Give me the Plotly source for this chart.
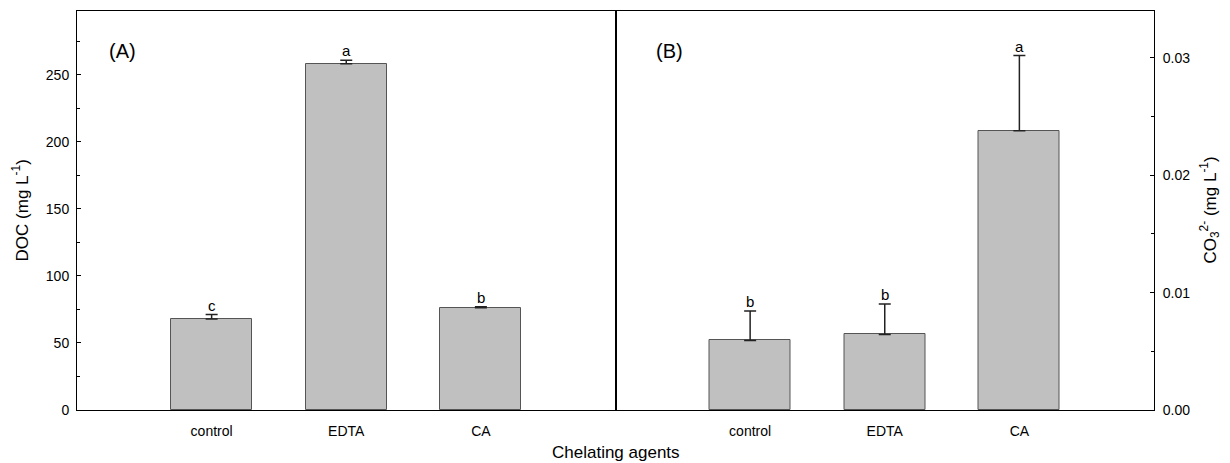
import plotly.graph_objects as go

categories = ["control", "EDTA", "CA"]
positions = [1, 2, 3]

doc_values = [67.9, 258.2, 76.2]
doc_errors = [3.3, 2.5, 0.8]
doc_letters = ["c", "a", "b"]

co3_values = [0.00593, 0.00644, 0.0238]
co3_errors = [0.0025, 0.0026, 0.0064]
co3_letters = ["b", "b", "a"]

left_ticks = [0, 50, 100, 150, 200, 250]
right_ticks = [0.00, 0.01, 0.02, 0.03]

FONT = "Liberation Sans, Arial, sans-serif"
BAR_FILL = "#c0c0c0"
BAR_LINE = "#555555"

fig = go.Figure()

def add_bars(values, errors, xa, ya):
    fig.add_trace(go.Bar(
        x=positions, y=values, width=0.6,
        marker=dict(color=BAR_FILL, line=dict(color=BAR_LINE, width=1)),
        error_y=dict(type="data", array=errors, arrayminus=[0] * len(errors),
                     symmetric=False, color="#222222", thickness=1.5, width=6),
        xaxis=xa, yaxis=ya, showlegend=False,
    ))

add_bars(doc_values, doc_errors, "x", "y")
add_bars(co3_values, co3_errors, "x2", "y2")

annotations = []
for p, v, e, t in zip(positions, doc_values, doc_errors, doc_letters):
    annotations.append(dict(x=p, y=v + e, xref="x", yref="y", text=t, showarrow=False,
                            yanchor="bottom", yshift=-1, font=dict(family=FONT, size=15, color="black")))
for p, v, e, t in zip(positions, co3_values, co3_errors, co3_letters):
    annotations.append(dict(x=p, y=v + e, xref="x2", yref="y2", text=t, showarrow=False,
                            yanchor="bottom", yshift=-1, font=dict(family=FONT, size=15, color="black")))

annotations += [
    dict(x=0.055, y=0.9, xref="x domain", yref="y domain", text="(A)", showarrow=False,
         xanchor="left", yanchor="middle", font=dict(family=FONT, size=20, color="black")),
    dict(x=0.072, y=0.9, xref="x2 domain", yref="y2 domain", text="(B)", showarrow=False,
         xanchor="left", yanchor="middle", font=dict(family=FONT, size=20, color="black")),
    dict(x=0.5, y=-0.1066, xref="paper", yref="paper", text="Chelating agents", showarrow=False,
         xanchor="center", yanchor="middle", font=dict(family=FONT, size=17, color="black")),
    dict(x=-0.053, y=0.5, xref="paper", yref="paper", text="DOC (mg L<sup>-1</sup>)", showarrow=False,
         textangle=-90, xanchor="center", yanchor="middle", font=dict(family=FONT, size=17, color="black")),
    dict(x=1.052, y=0.5, xref="paper", yref="paper",
         text="CO<sub>3</sub><sup>2-</sup> (mg L<sup>-1</sup>)", showarrow=False,
         textangle=-90, xanchor="center", yanchor="middle", font=dict(family=FONT, size=17, color="black")),
]

xcommon = dict(range=[0, 4], tickvals=positions, ticktext=categories, showline=True, mirror=True,
               linecolor="black", linewidth=1, ticks="", showgrid=False, zeroline=False,
               tickfont=dict(family=FONT, size=14, color="black"), ticklabelstandoff=8)

fig.update_layout(
    width=1230, height=463,
    margin=dict(l=77, r=76, t=11, b=53, pad=0),
    paper_bgcolor="white", plot_bgcolor="white",
    bargap=0,
    xaxis=dict(domain=[0, 0.5], anchor="y", **xcommon),
    xaxis2=dict(domain=[0.5, 1], anchor="y2", **xcommon),
    yaxis=dict(range=[0, 297.5], tickvals=left_ticks, showline=True, mirror=True, linecolor="black",
               linewidth=1, ticks="inside", ticklen=4, tickcolor="black", showgrid=False, zeroline=False,
               minor=dict(dtick=25, ticks="inside", ticklen=3, tickcolor="black"),
               tickfont=dict(family=FONT, size=14, color="black"), anchor="x", ticklabelstandoff=4),
    yaxis2=dict(range=[0, 0.034], tickvals=right_ticks, tickformat=".2f", side="right", showline=True,
                mirror=True, linecolor="black", linewidth=1, ticks="inside", ticklen=4, tickcolor="black",
                showgrid=False, zeroline=False,
                minor=dict(dtick=0.005, ticks="inside", ticklen=3, tickcolor="black"),
                tickfont=dict(family=FONT, size=14, color="black"), anchor="x2", ticklabelstandoff=5),
    annotations=annotations,
)

fig.write_html("out.html", config={"displayModeBar": False},
               post_script="document.body.style.margin='0';")
